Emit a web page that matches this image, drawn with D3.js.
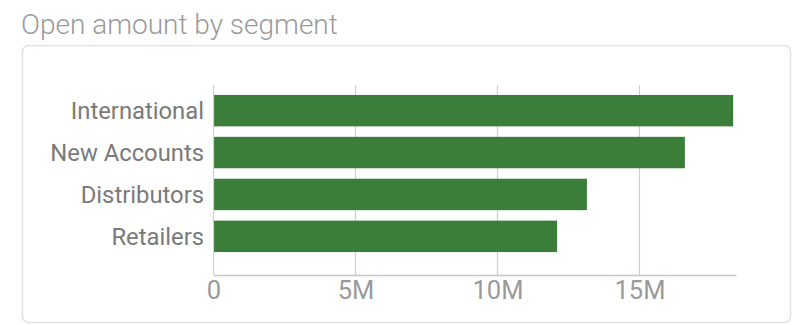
<!DOCTYPE html>
<html>
<head>
<meta charset="utf-8">
<script src="https://cdn.jsdelivr.net/npm/d3@7"></script>
<style>
  body { margin: 0; background: #fff; font-family: Roboto, "Noto Sans", sans-serif; }
</style>
</head>
<body>
<div id="chart"></div>
<script>
// Open amount by segment
const segments = ["International", "New Accounts", "Distributors", "Retailers"];
const amounts = [18.3e6, 16.6e6, 13.15e6, 12.1e6];
const tickValues = [0, 5e6, 10e6, 15e6];
const tickLabels = ["0", "5M", "10M", "15M"];

const width = 794, height = 325;

const svg = d3.select("#chart")
    .append("svg")
    .attr("width", width)
    .attr("height", height);

// titulo
svg.append("text")
    .attr("x", 21)
    .attr("y", 34)
    .style("fill", "#9a9a9a")
    .style("font-size", "28px")
    .style("font-weight", "300")
    .text("Open amount by segment");

// tarjeta
svg.append("rect")
    .attr("x", 22.5)
    .attr("y", 45.5)
    .attr("width", 768)
    .attr("height", 277)
    .attr("rx", 6)
    .attr("fill", "#fff")
    .attr("stroke", "#e2e2e2")
    .attr("stroke-width", 1.5);

const x = d3.scaleLinear()
    .domain([0, 18.4e6])
    .range([213.5, 736]);

const y = d3.scaleBand()
    .domain(segments)
    .range([89.5, 257.5])
    .paddingInner(0.25)
    .paddingOuter(0.13);

// grid
svg.append("g")
    .selectAll("line")
    .data(tickValues.slice(1))
    .enter()
    .append("line")
    .attr("x1", d => x(d))
    .attr("x2", d => x(d))
    .attr("y1", 85)
    .attr("y2", 275)
    .attr("stroke", "#cfcfcf")
    .attr("stroke-width", 1.2);

// barras
svg.append("g")
    .selectAll("rect")
    .data(segments)
    .enter()
    .append("rect")
    .attr("x", x(0))
    .attr("y", d => y(d))
    .attr("width", (d, i) => x(amounts[i]) - x(0))
    .attr("height", y.bandwidth())
    .attr("fill", "#3a7e39");

// eje x
const xAxis = d3.axisBottom(x)
    .tickValues(tickValues)
    .tickFormat((d, i) => tickLabels[i])
    .tickSize(0)
    .tickPadding(6);

const gx = svg.append("g")
    .attr("transform", "translate(0,275)")
    .call(xAxis);
gx.select(".domain").attr("stroke", "#c8c8c8").attr("stroke-width", 1.5);
gx.selectAll("text")
    .style("fill", "#9a9a9a")
    .style("font-size", "25.5px")
    .style("font-family", "Roboto, sans-serif");

// eje vertical (linea cero)
svg.append("line")
    .attr("x1", x(0)).attr("x2", x(0))
    .attr("y1", 85).attr("y2", 275)
    .attr("stroke", "#cfcfcf")
    .attr("stroke-width", 1.2);

// etiquetas de categoria
svg.append("g")
    .selectAll("text")
    .data(segments)
    .enter()
    .append("text")
    .attr("x", 204)
    .attr("y", d => y(d) + y.bandwidth() / 2)
    .attr("dy", "0.35em")
    .attr("text-anchor", "end")
    .style("fill", "#7a7a7a")
    .style("font-size", "23.8px")
    .text(d => d);
</script>
</body>
</html>
